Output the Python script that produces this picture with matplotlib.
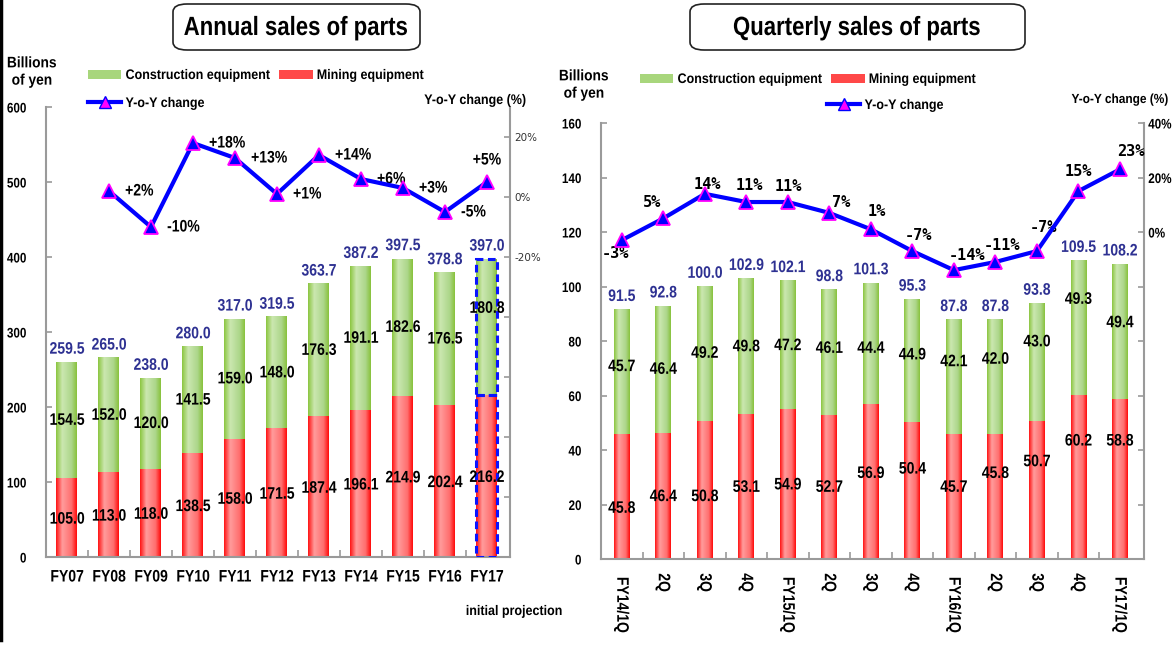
import numpy as np
import matplotlib.pyplot as plt
from matplotlib.colors import LinearSegmentedColormap
from matplotlib.patches import FancyBboxPatch, Patch
from matplotlib.lines import Line2D
from matplotlib.patheffects import AbstractPathEffect
from matplotlib.transforms import Affine2D

plt.rcParams['font.family'] = ['Liberation Sans', 'DejaVu Sans']
plt.rcParams['font.weight'] = 'bold'

W, H = 1176, 654

# annual sales (billions of yen)
years = ['FY07', 'FY08', 'FY09', 'FY10', 'FY11', 'FY12', 'FY13', 'FY14', 'FY15', 'FY16', 'FY17']
annual_construction = [154.5, 152.0, 120.0, 141.5, 159.0, 148.0, 176.3, 191.1, 182.6, 176.5, 180.8]
annual_mining = [105.0, 113.0, 118.0, 138.5, 158.0, 171.5, 187.4, 196.1, 214.9, 202.4, 216.2]
annual_total = [259.5, 265.0, 238.0, 280.0, 317.0, 319.5, 363.7, 387.2, 397.5, 378.8, 397.0]
annual_yoy = [2, -10, 18, 13, 1, 14, 6, 3, -5, 5]   # FY08..FY17

# quarterly sales (billions of yen)
quarters = ['FY14/1Q', '2Q', '3Q', '4Q', 'FY15/1Q', '2Q', '3Q', '4Q',
            'FY16/1Q', '2Q', '3Q', '4Q', 'FY17/1Q']
q_construction = [45.7, 46.4, 49.2, 49.8, 47.2, 46.1, 44.4, 44.9, 42.1, 42.0, 43.0, 49.3, 49.4]
q_mining = [45.8, 46.4, 50.8, 53.1, 54.9, 52.7, 56.9, 50.4, 45.7, 45.8, 50.7, 60.2, 58.8]
q_total = [91.5, 92.8, 100.0, 102.9, 102.1, 98.8, 101.3, 95.3, 87.8, 87.8, 93.8, 109.5, 108.2]
q_yoy = [-3, 5, 14, 11, 11, 7, 1, -7, -14, -11, -7, 15, 23]

# where the labels sit (layout only)
q_mining_label_y = [18.6, 22.9, 22.9, 26.3, 27.2, 26.3, 31.4, 33.0, 26.3, 31.4, 35.7, 43.3, 43.3]
q_constr_label_y = [70.6, 69.6, 75.5, 77.9, 78.3, 77.3, 77.3, 74.9, 72.4, 73.3, 79.7, 95.3, 86.7]
q_yoy_label_px = [(-6, 13), (-11, -16), (3, -9), (3, -17), (1, -16), (12, -10), (6, -18),
                  (6, -16), (13, -15), (7, -16), (7, -24), (0, -20), (11, -18)]

RED = LinearSegmentedColormap.from_list('red', [(0, '#ff1414'), (0.3, '#ff9c9c'),
                                                (0.75, '#ff6e6e'), (1, '#ff0a0a')])
GREEN = LinearSegmentedColormap.from_list('green', [(0, '#8cc641'), (0.3, '#cbe7b0'),
                                                    (0.75, '#acd68a'), (1, '#88c23c')])
GRAY = '#9a9a9a'
NAVY = '#2e3192'
PX2PT = 72 / 100


class Narrow(AbstractPathEffect):
    """squeeze glyphs horizontally (stand-in for a narrow font)"""

    def __init__(self, sx, anchor):
        super().__init__()
        self.sx = sx
        self.anchor = anchor

    def draw_path(self, renderer, gc, tpath, affine, rgbFace=None):
        ext = tpath.get_extents()
        cx = {'left': ext.x0, 'right': ext.x1}.get(self.anchor, (ext.x0 + ext.x1) / 2)
        t = Affine2D().translate(-cx, 0).scale(self.sx, 1).translate(cx, 0)
        renderer.draw_path(gc, tpath, t + affine, rgbFace)


def narrow(texts, sx=0.84):
    for t in texts:
        t.set_path_effects([Narrow(sx, t.get_ha())])


def shade(ax, bars, cmap):
    grad = np.linspace(0, 1, 64).reshape(1, -1)
    for b in bars:
        x0, y0, w, h = b.get_x(), b.get_y(), b.get_width(), b.get_height()
        ax.imshow(grad, cmap=cmap, extent=(x0, x0 + w, y0, y0 + h),
                  aspect='auto', interpolation='bilinear', zorder=2)


def style(ax, ax2, n):
    for a in (ax, ax2):
        a.spines['top'].set_visible(False)
        for s in ('left', 'right', 'bottom'):
            a.spines[s].set_color(GRAY)
            a.spines[s].set_linewidth(1.5)
    ax.spines['right'].set_visible(False)
    ax2.spines['left'].set_visible(False)
    ax2.spines['bottom'].set_visible(False)
    ax.set_xticks(range(n))
    ax.set_xticks(np.arange(0.5, n - 1, 1), minor=True)
    ax.tick_params(axis='x', which='major', length=0)
    ax.tick_params(axis='x', which='minor', direction='in', length=5, color=GRAY, width=1.2)
    ax.tick_params(axis='y', direction='in', length=4, color=GRAY, width=1.2, pad=14, labelsize=10)
    ax2.tick_params(axis='y', direction='in', length=4, color=GRAY, width=1.2)


fig = plt.figure(figsize=(W / 100, H / 100), dpi=100)
labels = []

# ---------------- annual ----------------
ax1 = fig.add_axes([46 / W, 1 - 557 / H, 464 / W, 450 / H])
x = np.arange(len(years))
bm = ax1.bar(x, annual_mining, 0.5, color='#ff5050', zorder=1)
bc = ax1.bar(x, annual_construction, 0.5, bottom=annual_mining, color='#a8d67c', zorder=1)
shade(ax1, bm, RED)
shade(ax1, bc, GREEN)
ax1.bar([x[-1], x[-1]], [annual_mining[-1], annual_construction[-1]], 0.5,
        bottom=[0, annual_mining[-1]], fill=False, edgecolor='#0a14ff',
        linestyle=(0, (2.5, 1.5)), linewidth=2.2, zorder=3)
for i in x:
    labels.append(ax1.annotate(f'{annual_total[i]:.1f}', (i, annual_total[i]), xytext=(0, 9.5),
                               textcoords='offset points', ha='center', va='center',
                               color=NAVY, fontsize=12, zorder=4))
    labels.append(ax1.text(i, annual_mining[i] / 2 - 2, f'{annual_mining[i]:.1f}',
                           ha='center', va='center', fontsize=12, zorder=4))
    cy = annual_mining[i] + annual_construction[i] / 2
    if i == len(years) - 1:
        cy += 25
    labels.append(ax1.text(i, cy, f'{annual_construction[i]:.1f}', ha='center', va='center',
                           fontsize=12, zorder=4))
ax1.set_xlim(-0.5, 10.55)
ax1.set_ylim(0, 600)
ax1.set_yticks(range(0, 601, 100))
ax1.set_xticklabels(years, fontsize=12)
ax1.tick_params(axis='x', pad=9)

ax2 = ax1.twinx()
ax2.plot(x[1:], annual_yoy, color='#0000ff', lw=3, marker='^', ms=10,
         mfc='#0000ff', mec='#ff00ff', mew=1.3, zorder=5)
for i, v in zip(x[1:], annual_yoy):
    if i == len(years) - 1:
        labels.append(ax2.annotate(f'{v:+d}%', (i, v), xytext=(0, 22 * PX2PT),
                                   textcoords='offset points', ha='center', va='center',
                                   fontsize=12))
    else:
        labels.append(ax2.annotate(f'{v:+d}%', (i, v), xytext=(16 * PX2PT, 0),
                                   textcoords='offset points', ha='left', va='center',
                                   fontsize=12))
ax2.set_ylim(-120, 30)
ax2.set_yticks(range(-120, 21, 20))
ax2.set_yticklabels(['' if t < -20 else f'{t}%' for t in range(-120, 21, 20)],
                    fontsize=7.5, fontweight='normal', family='DejaVu Sans', color='#333333')
ax2.tick_params(axis='y', pad=3)
style(ax1, ax2, len(years))

# ---------------- quarterly ----------------
ax3 = fig.add_axes([601 / W, 1 - 559 / H, 543 / W, 436 / H])
xq = np.arange(len(quarters))
qm = ax3.bar(xq, q_mining, 0.38, color='#ff5050', zorder=1)
qc = ax3.bar(xq, q_construction, 0.38, bottom=q_mining, color='#a8d67c', zorder=1)
shade(ax3, qm, RED)
shade(ax3, qc, GREEN)
for i in xq:
    labels.append(ax3.annotate(f'{q_total[i]:.1f}', (i, q_total[i]), xytext=(0, 9.5),
                               textcoords='offset points', ha='center', va='center',
                               color=NAVY, fontsize=12, zorder=4))
    labels.append(ax3.text(i, q_mining_label_y[i], f'{q_mining[i]:.1f}', ha='center',
                           va='center', fontsize=12, zorder=4))
    labels.append(ax3.text(i, q_constr_label_y[i], f'{q_construction[i]:.1f}', ha='center',
                           va='center', fontsize=12, zorder=4))
ax3.set_xlim(-0.5, 12.58)
ax3.set_ylim(0, 160)
ax3.set_yticks(range(0, 161, 20))
ax3.set_xticklabels(quarters, rotation=-90, fontsize=12, va='top')
ax3.tick_params(axis='x', pad=9)

ax4 = ax3.twinx()
ax4.plot(xq, q_yoy, color='#0000ff', lw=3, marker='^', ms=10,
         mfc='#0000ff', mec='#ff00ff', mew=1.3, zorder=5)
for i, v in enumerate(q_yoy):
    dx, dy = q_yoy_label_px[i]
    ax4.annotate(f'{v}%', (i, v), xytext=(dx * PX2PT, -dy * PX2PT), textcoords='offset points',
                 ha='center', va='center', fontsize=11, family='DejaVu Sans Mono')
ax4.set_ylim(-120, 40)
ax4.set_yticks(range(-120, 41, 20))
ax4.set_yticklabels(['' if t < 0 else f'{t}%' for t in range(-120, 41, 20)], fontsize=10)
ax4.tick_params(axis='y', pad=3)
style(ax3, ax4, len(quarters))

for a in (ax1, ax3):
    labels += a.get_xticklabels() + a.get_yticklabels()
labels += ax4.get_yticklabels()

# ---------------- titles, legends, captions ----------------
for (x0, x1, cx, title) in [(173, 420, 296, 'Annual sales of parts'),
                            (690, 1025, 857, 'Quarterly sales of parts')]:
    fig.patches.append(FancyBboxPatch((x0 / W, 1 - 50 / H), (x1 - x0) / W, 46 / H,
                                      boxstyle='round,pad=0,rounding_size=0.012',
                                      transform=fig.transFigure, facecolor='white',
                                      edgecolor='#222222', linewidth=1.2))
    labels.append(fig.text(cx / W, 1 - 28 / H, title, ha='center', va='center', fontsize=19))

captions = [
    fig.text(32 / W, 1 - 72 / H, 'Billions\nof yen', ha='center', va='center', fontsize=11,
             linespacing=1.3),
    fig.text(584 / W, 1 - 85 / H, 'Billions\nof yen', ha='center', va='center', fontsize=11,
             linespacing=1.3),
    fig.text(475 / W, 1 - 100 / H, 'Y-o-Y change (%)', ha='center', va='center', fontsize=10),
    fig.text(1120 / W, 1 - 100 / H, 'Y-o-Y change (%)', ha='center', va='center', fontsize=9.5),
    fig.text(514 / W, 1 - 611 / H, 'initial projection', ha='center', va='center', fontsize=10),
]

patches = [Patch(facecolor='#a8d67c', label='Construction equipment'),
           Patch(facecolor='#ff4848', label='Mining equipment')]
yoy_handle = Line2D([], [], color='#0000ff', lw=3, marker='^', ms=8, mfc='#ff00ff',
                    mec='#0000ff', label='Y-o-Y change')
leg_kw = dict(frameon=False, fontsize=10, borderpad=0, borderaxespad=0, handlelength=2.4,
              handleheight=0.6, handletextpad=0.3, columnspacing=-0.5, loc='center left')
legs = [fig.legend(handles=patches, ncol=2, bbox_to_anchor=(88 / W, 1 - 75 / H), **leg_kw),
        fig.legend(handles=[yoy_handle], bbox_to_anchor=(88 / W, 1 - 103 / H), **leg_kw),
        fig.legend(handles=patches, ncol=2, bbox_to_anchor=(640 / W, 1 - 79 / H), **leg_kw),
        fig.legend(handles=[yoy_handle], bbox_to_anchor=(827 / W, 1 - 105 / H), **leg_kw)]
for lg in legs:
    captions += lg.get_texts()

narrow(labels, 0.84)
narrow(captions, 0.9)

fig.add_artist(Line2D([1.5 / W, 1.5 / W], [1 - 640 / H, 1.0], color='black', lw=2.5,
                      transform=fig.transFigure))

fig.savefig('out.png', dpi=100, facecolor='white')
